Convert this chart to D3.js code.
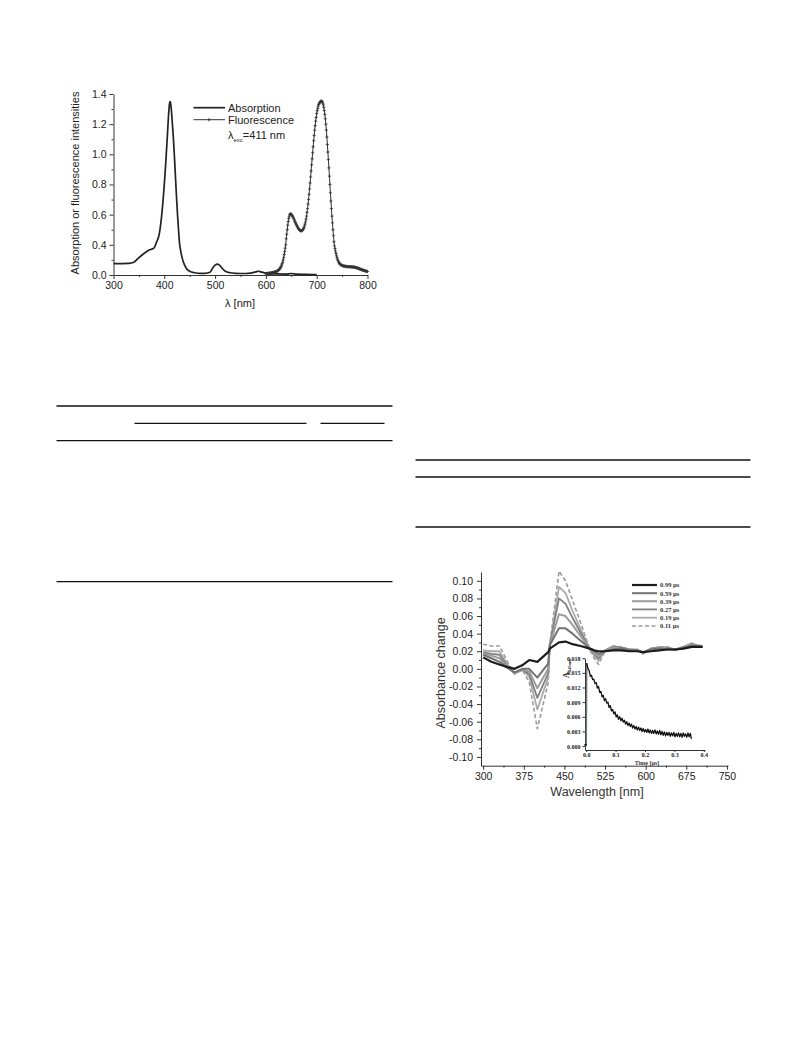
<!DOCTYPE html>
<html><head><meta charset="utf-8">
<script src="https://cdn.jsdelivr.net/npm/d3@7"></script>
<style>
html,body{margin:0;padding:0;background:#fff;}
svg{display:block;}
text{font-family:"Liberation Sans",Arial,sans-serif;}
</style></head>
<body>
<script>
// ---------- Chart 1 data ----------
const absWl = [300,330,340,350,360,370,380,385,390,395,400,403,406,408,410,411,412,414,416,418,420,422,424,426,428,430,432,435,440,445,450,460,470,480,490,495,500,505,510,515,520,530,540,550,560,570,580,585,590,600,610,620,640,650,660,680,700];
const absVal = [0.15,0.155,0.17,0.23,0.285,0.33,0.36,0.42,0.47,0.6,0.8,0.95,1.12,1.24,1.33,1.35,1.345,1.29,1.2,1.1,0.98,0.85,0.72,0.6,0.5,0.41,0.33,0.23,0.13,0.075,0.05,0.03,0.022,0.022,0.036,0.09,0.13,0.145,0.12,0.08,0.05,0.03,0.022,0.02,0.02,0.024,0.042,0.05,0.042,0.024,0.016,0.014,0.012,0.02,0.012,0.008,0.004];
const fluStart = 600, fluStep = 1;
const fluVal = [
.018,.019,.019,.020,.021,.022,.023,.024,.025,.026,
.028,.029,.030,.032,.033,.035,.037,.039,.041,.043,
.045,.048,.051,.055,.060,.066,.073,.080,.090,.100,
.115,.130,.150,.170,.200,.230,.270,.310,.355,.400,
.440,.470,.500,.530,.555,.575,.590,.600,.605,.605,
.602,.598,.592,.586,.580,.572,.564,.556,.548,.540,
.533,.527,.520,.514,.508,.503,.499,.496,.494,.493,
.493,.494,.497,.501,.507,.515,.525,.537,.552,.570,
.590,.615,.640,.670,.700,.735,.770,.810,.850,.890,
.930,.970,1.010,1.050,1.090,1.125,1.160,1.190,1.220,1.245,
1.270,1.290,1.305,1.320,1.330,1.338,1.344,1.348,1.351,1.353,
1.352,1.348,1.340,1.328,1.312,1.290,1.265,1.235,1.200,1.160,
1.115,1.065,1.015,.965,.910,.855,.800,.745,.690,.640,
.590,.545,.500,.460,.420,.385,.350,.315,.285,.255,
.230,.210,.190,.175,.162,.152,.144,.138,.133,.129,
.126,.123,.121,.119,.117,.116,.115,.114,.113,.112,
.112,.111,.111,.110,.110,.110,.109,.109,.108,.108,
.107,.106,.105,.104,.103,.102,.101,.099,.097,.095,
.093,.090,.088,.085,.082,.080,.077,.074,.071,.069,
.066,.064,.062,.060,.058,.056,.054,.052,.050,.048,.046];
const x1Ticks = [300,400,500,600,700,800];
const x1Minor = [350,450,550,650,750];
const y1Ticks = [0.0,0.4,0.6,0.8,1.0,1.2,1.4];
const y1Minor = [0.2,0.5,0.7,0.9,1.1,1.3];
const legend1 = ["Absorption","Fluorescence"];

// ---------- Chart 2 data ----------
const wl2 = [300,315,330,345,358,372,385,400,420,423,440,452,465,480,497,505,513,525,540,555,570,585,595,610,625,640,655,670,685,695,705];
const s099 = [0.013,0.008,0.005,0.002,0.000,0.004,0.010,0.008,0.019,0.023,0.030,0.031,0.028,0.026,0.023,0.021,0.020,0.020,0.021,0.021,0.020,0.020,0.019,0.020,0.021,0.022,0.022,0.023,0.025,0.025,0.025];
const s059 = [0.016,0.012,0.008,0.001,-0.004,0.000,0.000,-0.010,0.006,0.027,0.046,0.046,0.040,0.032,0.023,0.020,0.017,0.020,0.022,0.023,0.021,0.021,0.019,0.022,0.023,0.022,0.022,0.024,0.026,0.026,0.025];
const s039 = [0.018,0.015,0.012,0.002,-0.005,-0.001,-0.003,-0.022,0.000,0.027,0.062,0.060,0.050,0.037,0.023,0.018,0.014,0.021,0.024,0.023,0.021,0.021,0.018,0.023,0.024,0.023,0.022,0.025,0.027,0.026,0.025];
const s027 = [0.019,0.017,0.016,0.003,-0.005,-0.001,-0.006,-0.033,-0.005,0.027,0.080,0.074,0.058,0.041,0.022,0.017,0.012,0.021,0.025,0.024,0.022,0.021,0.018,0.023,0.024,0.024,0.022,0.025,0.028,0.026,0.025];
const s019 = [0.021,0.020,0.020,0.005,-0.005,-0.001,-0.009,-0.046,-0.010,0.027,0.093,0.086,0.066,0.045,0.022,0.015,0.009,0.021,0.026,0.024,0.022,0.022,0.017,0.023,0.025,0.024,0.021,0.025,0.029,0.027,0.026];
const s011 = [0.028,0.026,0.026,0.008,-0.006,-0.001,-0.015,-0.068,-0.016,0.027,0.111,0.100,0.078,0.052,0.022,0.012,0.005,0.020,0.026,0.025,0.022,0.022,0.017,0.023,0.025,0.025,0.021,0.025,0.029,0.027,0.026];
const labels2 = ["0.99 µs","0.59 µs","0.39 µs","0.27 µs","0.19 µs","0.11 µs"];
const x2Ticks = [300,375,450,525,600,675,750];
const x2Minor = [337.5,412.5,487.5,562.5,637.5,712.5];
const y2Ticks = [-0.10,-0.08,-0.06,-0.04,-0.02,0.00,0.02,0.04,0.06,0.08,0.10];
const y2Minor = [-0.09,-0.07,-0.05,-0.03,-0.01,0.01,0.03,0.05,0.07,0.09];

// inset
const inTime = [-0.003,-0.001,0.0005,0.002,0.006,0.010,0.014,0.018,0.022,0.026,0.030,0.034,0.038,0.042,0.046,0.050,0.054,0.058,0.062,0.066,0.070,0.074,0.078,0.082,0.086,0.090,0.094,0.098,0.102,0.106,0.110,0.114,0.118,0.122,0.126,0.130,0.134,0.138,0.142,0.146,0.150,0.154,0.158,0.162,0.166,0.170,0.174,0.178,0.182,0.186,0.190,0.194,0.198,0.202,0.206,0.210,0.214,0.218,0.222,0.226,0.230,0.234,0.238,0.242,0.246,0.250,0.254,0.258,0.262,0.266,0.270,0.274,0.278,0.282,0.286,0.290,0.294,0.298,0.302,0.306,0.310,0.314,0.318,0.322,0.326,0.330,0.334,0.338,0.342,0.346,0.350,0.354,0.358];
const inVal = [0.0004,0.0001,0.0002,0.0170,0.0158,0.0155,0.0143,0.0145,0.0136,0.0137,0.0128,0.0130,0.0119,0.0122,0.0110,0.0112,0.0101,0.0104,0.0093,0.0097,0.0088,0.0090,0.0079,0.0083,0.0072,0.0075,0.0066,0.0070,0.0060,0.0064,0.0055,0.0060,0.0052,0.0057,0.0049,0.0053,0.0045,0.0050,0.0042,0.0047,0.0040,0.0045,0.0037,0.0042,0.0035,0.0040,0.0033,0.0039,0.0032,0.0037,0.0030,0.0036,0.0029,0.0034,0.0028,0.0035,0.0027,0.0033,0.0026,0.0032,0.0026,0.0033,0.0025,0.0031,0.0024,0.0032,0.0023,0.0030,0.0022,0.0029,0.0021,0.0028,0.0022,0.0028,0.0020,0.0027,0.0021,0.0028,0.0019,0.0026,0.0020,0.0027,0.0019,0.0026,0.0018,0.0027,0.0020,0.0025,0.0018,0.0027,0.0019,0.0026,0.0015];
const inXTicks = [0.0,0.1,0.2,0.3,0.4];
const inYTicks = [0.000,0.003,0.006,0.009,0.012,0.015,0.018];

// ---------- Drawing ----------
const svg = d3.select("body").append("svg").attr("width",793).attr("height",1057);
svg.append("rect").attr("width",793).attr("height",1057).attr("fill","#fff");

function styleAxis(g, fontSize, opts={}){
  g.select(".domain").attr("stroke", "#333").attr("stroke-width",1);
  g.selectAll(".tick line").attr("stroke","#333");
  g.selectAll(".tick text").attr("fill","#222").style("font-size",fontSize+"px")
   .style("font-family", opts.family || '"Liberation Sans",Arial,sans-serif')
   .style("font-weight", opts.weight || "normal");
}

// ===== Chart 1 =====
const x1 = d3.scaleLinear().domain([300,800]).range([113.5,367.5]);
const y1 = d3.scaleLinear().domain([0,0.4,1.4]).range([275,244.8,94]);
const c1 = svg.append("g");
c1.append("g").attr("transform","translate(0,275)")
  .call(d3.axisBottom(x1).tickValues(x1Ticks).tickFormat(d3.format("d")).tickSize(4).tickSizeOuter(0).tickPadding(3))
  .call(g=>styleAxis(g,10.5));
c1.append("g").attr("transform","translate(0,275)")
  .call(d3.axisBottom(x1).tickValues(x1Minor).tickFormat("").tickSize(2).tickSizeOuter(0))
  .call(g=>{g.select(".domain").remove(); g.selectAll("line").attr("stroke","#333");});
c1.append("g").attr("transform","translate(113.5,0)")
  .call(d3.axisLeft(y1).tickValues(y1Ticks).tickFormat(d3.format(".1f")).tickSize(4).tickSizeOuter(0).tickPadding(3))
  .call(g=>styleAxis(g,10.5));
c1.append("g").attr("transform","translate(113.5,0)")
  .call(d3.axisLeft(y1).tickValues(y1Minor).tickFormat("").tickSize(2).tickSizeOuter(0))
  .call(g=>{g.select(".domain").remove(); g.selectAll("line").attr("stroke","#333");});

const absPts = absWl.map((w,i)=>[w,absVal[i]]);
const fluPts = fluVal.map((v,i)=>[fluStart+i*fluStep, v]);
const line1 = d3.line().x(d=>x1(d[0])).y(d=>y1(d[1])).curve(d3.curveMonotoneX);
c1.append("path").attr("d",line1(absPts)).attr("fill","none").attr("stroke","#222").attr("stroke-width",1.7);
c1.append("path").attr("d",d3.line().x(d=>x1(d[0])).y(d=>y1(d[1]))(fluPts)).attr("fill","none").attr("stroke","#333").attr("stroke-width",1);
c1.append("g").selectAll("path").data(fluPts).join("path")
  .attr("transform",d=>`translate(${x1(d[0])},${y1(d[1])})`)
  .attr("d","M-1.6,0H1.6M0,-1.6V1.6").attr("stroke","#333").attr("stroke-width",0.8).attr("fill","none");

c1.append("text").attr("transform","translate(79,183) rotate(-90)").attr("text-anchor","middle")
  .style("font-size","11px").attr("fill","#222").text("Absorption or fluorescence intensities");
c1.append("text").attr("x",240).attr("y",307).attr("text-anchor","middle")
  .style("font-size","11px").attr("fill","#222").text("λ [nm]");
// legend
c1.append("line").attr("x1",193.5).attr("x2",225).attr("y1",107.7).attr("y2",107.7).attr("stroke","#222").attr("stroke-width",1.7);
c1.append("text").attr("x",228).attr("y",111.5).style("font-size","11px").attr("fill","#222").text(legend1[0]);
c1.append("line").attr("x1",193.5).attr("x2",225).attr("y1",119.7).attr("y2",119.7).attr("stroke","#333").attr("stroke-width",1);
c1.append("path").attr("transform","translate(209,119.7)").attr("d","M-1.6,0H1.6M0,-1.6V1.6").attr("stroke","#333").attr("stroke-width",0.9);
c1.append("text").attr("x",228).attr("y",123.5).style("font-size","11px").attr("fill","#222").text(legend1[1]);
const lt = c1.append("text").attr("x",228).attr("y",138.5).style("font-size","11px").attr("fill","#222");
lt.append("tspan").text("λ");
lt.append("tspan").attr("dy",3).style("font-size","6px").text("exc");
lt.append("tspan").attr("dy",-3).text("=411 nm");

// ===== Tables (rules) =====
const rules = svg.append("g").attr("stroke","#111").attr("stroke-width",1.3);
rules.append("line").attr("x1",56.5).attr("x2",392.5).attr("y1",406).attr("y2",406);
rules.append("line").attr("x1",134.5).attr("x2",306.5).attr("y1",423.3).attr("y2",423.3);
rules.append("line").attr("x1",320.5).attr("x2",384.5).attr("y1",423.3).attr("y2",423.3);
rules.append("line").attr("x1",56.5).attr("x2",392.5).attr("y1",440.7).attr("y2",440.7);
rules.append("line").attr("x1",56.5).attr("x2",392.5).attr("y1",581.7).attr("y2",581.7);
rules.append("line").attr("x1",415.5).attr("x2",750.5).attr("y1",460).attr("y2",460);
rules.append("line").attr("x1",415.5).attr("x2",750.5).attr("y1",477).attr("y2",477);
rules.append("line").attr("x1",415.5).attr("x2",750.5).attr("y1",527).attr("y2",527);

// ===== Chart 2 =====
const x2 = d3.scaleLinear().domain([296,752]).range([481,728]);
const y2 = d3.scaleLinear().domain([-0.11,0.11]).range([765.7,572]);
const c2 = svg.append("g");
c2.append("g").attr("transform","translate(0,765.7)")
  .call(d3.axisBottom(x2).tickValues(x2Ticks).tickFormat(d3.format("d")).tickSize(4).tickSizeOuter(0).tickPadding(3))
  .call(g=>styleAxis(g,10.5));
c2.append("g").attr("transform","translate(0,765.7)")
  .call(d3.axisBottom(x2).tickValues(x2Minor).tickFormat("").tickSize(2).tickSizeOuter(0))
  .call(g=>{g.select(".domain").remove(); g.selectAll("line").attr("stroke","#333");});
c2.append("g").attr("transform","translate(481,0)")
  .call(d3.axisLeft(y2).tickValues(y2Ticks).tickFormat(d3.format(".2f")).tickSize(4).tickSizeOuter(0).tickPadding(4))
  .call(g=>styleAxis(g,10.5));
c2.append("g").attr("transform","translate(481,0)")
  .call(d3.axisLeft(y2).tickValues(y2Minor).tickFormat("").tickSize(2).tickSizeOuter(0))
  .call(g=>{g.select(".domain").remove(); g.selectAll("line").attr("stroke","#333");});
c2.selectAll(".tick text").text(function(){return this.textContent.replace("−","-");});

const seriesVals = [s099,s059,s039,s027,s019,s011];
const sColor = ["#1c1c1c","#727272","#9c9c9c","#808080","#ababab","#9a9a9a"];
const sWidth = [2.2,2,2,1.8,1.8,1.6];
const sDash  = [null,null,null,null,null,"4,2.5"];
const line2 = d3.line().x((d,i)=>x2(wl2[i])).y(d=>y2(d));
const order = [5,4,3,2,1,0];
c2.append("g").selectAll("path").data(order).join("path")
  .attr("d",k=>line2(seriesVals[k])).attr("fill","none")
  .attr("stroke",k=>sColor[k]).attr("stroke-width",k=>sWidth[k])
  .attr("stroke-dasharray",k=>sDash[k]).attr("stroke-linejoin","round");

c2.append("text").attr("transform","translate(445,673) rotate(-90)").attr("text-anchor","middle")
  .style("font-size","12.5px").attr("fill","#333").text("Absorbance change");
c2.append("text").attr("x",597).attr("y",795.5).attr("text-anchor","middle")
  .style("font-size","12.5px").attr("fill","#333").text("Wavelength [nm]");

// legend 2
const legY = [585,593.2,601.2,609.4,617.7,626];
const lg = c2.append("g");
labels2.forEach((lab,k)=>{
  lg.append("line").attr("x1",632).attr("x2",657).attr("y1",legY[k]).attr("y2",legY[k])
    .attr("stroke",sColor[k]).attr("stroke-width",sWidth[k]).attr("stroke-dasharray",sDash[k]);
  lg.append("text").attr("x",660).attr("y",legY[k]+2.3).style("font-size","6.5px")
    .style("font-family",'"Liberation Serif","Times New Roman",serif').style("font-weight","bold")
    .attr("fill","#333").text(lab);
});

// inset
const xi = d3.scaleLinear().domain([-0.004,0.404]).range([585,705]);
const yi = d3.scaleLinear().domain([-0.0008,0.018]).range([750,658.2]);
const ci = svg.append("g");
const serif = '"Liberation Serif","Times New Roman",serif';
ci.append("g").attr("transform","translate(0,750)")
  .call(d3.axisBottom(xi).tickValues(inXTicks).tickFormat(d3.format(".1f")).tickSize(2).tickSizeOuter(0).tickPadding(0.5))
  .call(g=>styleAxis(g,6,{family:serif,weight:"bold"}));
ci.append("g").attr("transform","translate(585,0)")
  .call(d3.axisLeft(yi).tickValues(inYTicks).tickFormat(d3.format(".3f")).tickSize(2.5).tickSizeOuter(0).tickPadding(2))
  .call(g=>styleAxis(g,6,{family:serif,weight:"bold"}));
const inPts = inTime.map((t,i)=>[t,inVal[i]]);
ci.append("path").attr("d",d3.line().x(d=>xi(d[0])).y(d=>yi(d[1]))(inPts.slice(0,4)))
  .attr("fill","none").attr("stroke","#777").attr("stroke-width",1.4);
ci.append("path").attr("d",d3.line().x(d=>xi(d[0])).y(d=>yi(d[1]))(inPts.slice(3)))
  .attr("fill","none").attr("stroke","#111").attr("stroke-width",1.3).attr("stroke-linejoin","round");
ci.append("path").attr("d",d3.line().x(d=>xi(d[0])).y(d=>yi(d[1]))(inPts.slice(0,2)))
  .attr("fill","none").attr("stroke","#111").attr("stroke-width",2.5);
ci.append("text").attr("x",647).attr("y",764.5).attr("text-anchor","middle").style("font-size","6px")
  .style("font-family",serif).style("font-weight","bold").attr("fill","#333").text("Time [µs]");
const ay = ci.append("text").attr("transform","translate(569,678) rotate(-90)").style("font-family",serif)
  .style("font-weight","bold").attr("fill","#333").style("font-size","8px");
ay.append("tspan").text("A");
ay.append("tspan").attr("dy",2).style("font-size","4.5px").text("440nm");
</script>
</body></html>
